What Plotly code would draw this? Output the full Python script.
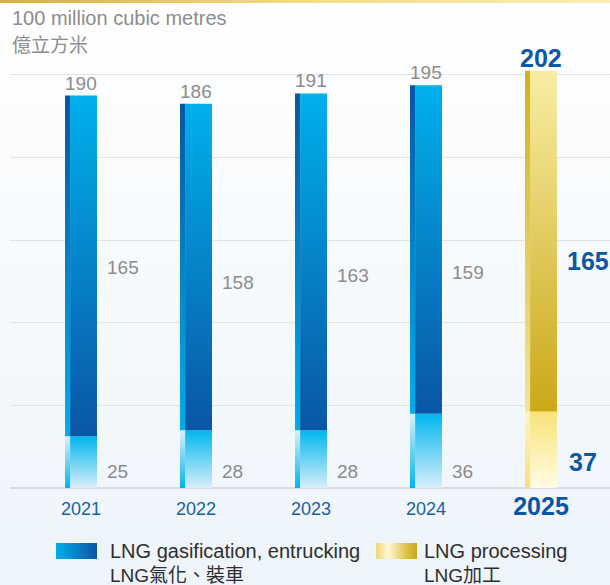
import plotly.graph_objects as go

# LNG volumes, 100 million cubic metres
years = ["2021", "2022", "2023", "2024", "2025"]
totals = [190, 186, 191, 195, 202]
upper_part = [165, 158, 163, 159, 165]
lower_part = [25, 28, 28, 36, 37]
highlight_year = "2025"

legend_items = [
    ("LNG gasification, entrucking", "LNG氣化、裝車"),
    ("LNG processing", "LNG加工"),
]

W, H = 610, 585
FONT = "Liberation Sans, Arial, Noto Sans CJK TC, sans-serif"
GRAY = "#8c8c8c"
BLUE_TXT = "#0a58a8"

# colour ramps: (start colour at the bottom, stop colour at the top)
BLUE = {
    "upper_face": ("#0a56a5", "#00b0ec"),
    "upper_side": ("#00aeea", "#0656a4"),
    "lower_face": ("#d9eefa", "#00b6ee"),
    "lower_side": ("#00b4ec", "#dcf0fb"),
}
GOLD = {
    "upper_face": ("#caa818", "#f9eda4"),
    "upper_side": ("#f3e39c", "#d2b11a"),
    "lower_face": ("#fffbe4", "#f8e478"),
    "lower_side": ("#f7e07a", "#fdf4c4"),
}

# geometry of the bars on the category axis (units of one category step)
HALF = 0.139
SIDE = 0.044
y_top = 216.9

fig = go.Figure()


def rect(x0, x1, y0, y1, scale, gtype, start, stop, xa, ya):
    fig.add_trace(go.Scatter(
        x=[x0, x1, x1, x0, x0], y=[y0, y0, y1, y1, y0],
        mode="lines", line=dict(width=0), fill="toself",
        fillgradient=dict(type=gtype, colorscale=scale, start=start, stop=stop),
        xaxis=xa, yaxis=ya, hoverinfo="skip", showlegend=False,
    ))


# page background and the gold rule along the top (pixel subplot)
rect(0, W, 0, H, [[0, "#ffffff"], [1, "#edf4fa"]], "vertical", 0, H, "x", "y")
rect(0, W, 0, 3, [[0, "#d3b140"], [0.5, "#f1dd86"], [1, "#f8edb6"]],
     "horizontal", 0, W, "x", "y")

# stacked bars
for i, yr in enumerate(years):
    pal = GOLD if yr == highlight_year else BLUE
    xl, xs, xr = i - HALF, i - HALF + SIDE, i + HALF
    lo, tot = lower_part[i], totals[i]
    for part, y0, y1 in (("lower", 0, lo), ("upper", lo, tot)):
        cb, ct = pal[part + "_face"]
        rect(xs, xr, y0, y1, [[0, cb], [1, ct]], "vertical", y0, y1, "x2", "y2")
        cb, ct = pal[part + "_side"]
        rect(xl, xs, y0, y1, [[0, cb], [1, ct]], "vertical", y0, y1, "x2", "y2")

# value labels
mid_label_at = [106.6, 99.3, 103.1, 104.1, 110.0]
low_label_at = [8.2, 8.2, 8.2, 8.2, 12.6]
for i, yr in enumerate(years):
    hi = yr == highlight_year
    f = dict(family=FONT, size=25 if hi else 19, color=BLUE_TXT if hi else GRAY)
    tx = lambda v: f"<b>{v}</b>" if hi else str(v)
    fig.add_annotation(x=i, y=totals[i], xref="x2", yref="y2", text=tx(totals[i]),
                       showarrow=False, xanchor="center", yanchor="bottom",
                       yshift=-3 if hi else 0, font=f)
    fig.add_annotation(x=i + HALF, y=mid_label_at[i], xref="x2", yref="y2",
                       text=tx(upper_part[i]), showarrow=False, xanchor="left",
                       yanchor="middle", xshift=8, font=f)
    fig.add_annotation(x=i + HALF, y=low_label_at[i], xref="x2", yref="y2",
                       text=tx(lower_part[i]), showarrow=False, xanchor="left",
                       yanchor="middle", xshift=8 if not hi else 10, font=f)

# unit caption
fig.add_annotation(x=10, y=18, xref="x", yref="y", text="100 million cubic metres",
                   showarrow=False, xanchor="left", yanchor="middle",
                   font=dict(family=FONT, size=20, color=GRAY))
fig.add_annotation(x=10, y=45, xref="x", yref="y", text="億立方米",
                   showarrow=False, xanchor="left", yanchor="middle",
                   font=dict(family=FONT, size=19, color=GRAY))

# legend
swatches = [
    (56, 97, 108, [[0, "#00aeef"], [1, "#0a55a4"]]),
    (376, 417, 422, [[0, "#eed679"], [0.3, "#fff8d4"], [0.75, "#dcc048"], [1, "#c8a620"]]),
]
for (x0, x1, xt, scale), (en, zh) in zip(swatches, legend_items):
    rect(x0, x1, 543, 559, scale, "horizontal", x0, x1, "x", "y")
    for txt, yy, sz in ((en, 551, 20), (zh, 575, 19)):
        fig.add_annotation(x=xt, y=yy, xref="x", yref="y", text=txt,
                           showarrow=False, xanchor="left", yanchor="middle",
                           font=dict(family=FONT, size=sz, color="#2e2e2e"))

tick_text = [f"<b><span style='font-size:25px;color:#0a55a5'>{y}</span></b>"
             if y == highlight_year else y for y in years]

fig.update_layout(
    width=W, height=H, margin=dict(l=0, r=0, t=0, b=0),
    paper_bgcolor="#ffffff", plot_bgcolor="rgba(0,0,0,0)", showlegend=False,
    xaxis=dict(domain=[0, 1], range=[0, W], visible=False, fixedrange=True),
    yaxis=dict(domain=[0, 1], range=[H, 0], visible=False, fixedrange=True),
    xaxis2=dict(domain=[10 / W, 1], range=[-0.6174, 4.6], anchor="y2",
                tickvals=list(range(len(years))), ticktext=tick_text,
                tickfont=dict(family=FONT, size=18, color="#1a5fab"),
                ticks="", showgrid=False, zeroline=False, showline=False,
                ticklabelstandoff=8),
    yaxis2=dict(domain=[(H - 488) / H, (H - 40) / H], range=[0, y_top], anchor="x2",
                dtick=40, tick0=0, showticklabels=False, ticks="",
                gridcolor="#e3e3e3", gridwidth=1, zeroline=True,
                zerolinecolor="#dcdcdc", zerolinewidth=2),
)

fig.write_html("out.html")
